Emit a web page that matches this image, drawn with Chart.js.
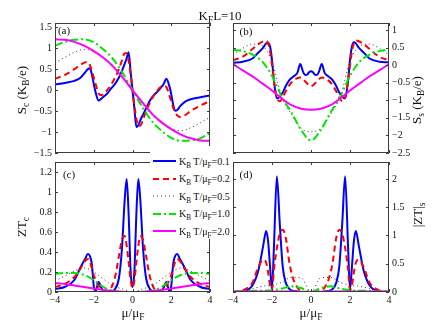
<!DOCTYPE html>
<html>
<head>
<meta charset="utf-8">
<script src="https://cdn.jsdelivr.net/npm/chart.js@4.4.1/dist/chart.umd.min.js"></script>
<style>
html, body { margin: 0; padding: 0; background: #fff; }
#wrap { position: relative; width: 444px; height: 325px; overflow: hidden;
        font-family: "Liberation Serif", "Times New Roman", serif; color: #111; }
canvas { position: absolute; left: 0; top: 0; }
.lbl { position: absolute; white-space: nowrap; font-size: 13px; line-height: 1; transform: translate(-50%, -50%); }
.rot { transform: translate(-50%, -50%) rotate(-90deg); }
.tag { font-size: 11px; }
sub { font-size: 0.72em; vertical-align: -0.35em; line-height: 0; }
#legend { position: absolute; left: 150px; top: 146px; width: 80px; height: 93px; background: #fff; font-size: 10px; }
#legend .row { position: absolute; left: 3px; height: 12px; display: flex; align-items: center; white-space: nowrap; }
#legend svg { margin-right: 2px; }
</style>
</head>
<body>
<div id="wrap">
  <canvas id="pa" width="444" height="325"></canvas>
  <canvas id="pb" width="444" height="325"></canvas>
  <canvas id="pc" width="444" height="325"></canvas>
  <canvas id="pd" width="444" height="325"></canvas>
  <div id="legend"></div>
  <div class="lbl" style="left:220px;top:15px;">K<sub>F</sub>L=10</div>
  <div class="lbl rot" style="left:21px;top:90px;">S<sub>c</sub> (K<sub>B</sub>/e)</div>
  <div class="lbl rot" style="left:21px;top:227px;">ZT<sub>c</sub></div>
  <div class="lbl rot" style="left:416px;top:100px;">S<sub>s</sub> (K<sub>B</sub>/e)</div>
  <div class="lbl rot" style="left:417px;top:215px;">|ZT|<sub>s</sub></div>
  <div class="lbl" style="left:133px;top:312px;">μ/μ<sub>F</sub></div>
  <div class="lbl" style="left:311px;top:312px;">μ/μ<sub>F</sub></div>
  <div class="lbl tag" style="left:64px;top:30px;">(a)</div>
  <div class="lbl tag" style="left:246px;top:31px;">(b)</div>
  <div class="lbl tag" style="left:69px;top:174px;">(c)</div>
  <div class="lbl tag" style="left:246px;top:174px;">(d)</div>
</div>
<script>
// chemical potential grids (mu / mu_F)
const muFine = [-4, -3.5, -3, -2.7, -2.45, -2.3, -2.2, -2.1, -2, -1.9, -1.75, -1.6, -1.45, -1.3, -1.1, -0.9, -0.7, -0.55, -0.4, -0.3, -0.2, -0.1, 0,
                0.1, 0.2, 0.3, 0.4, 0.55, 0.7, 0.9, 1.1, 1.3, 1.45, 1.6, 1.75, 1.9, 2, 2.1, 2.2, 2.3, 2.45, 2.7, 3, 3.5, 4];
const muCoarse = [-4, -3.5, -3, -2.5, -2, -1.5, -1, -0.5, 0, 0.5, 1, 1.5, 2, 2.5, 3, 3.5, 4];

// KBT/muF values
const seriesLabels = ['0.1', '0.2', '0.5', '1.0', '2.0'];

// (a) S_c
const aBlue = [0.13, 0.17, 0.22, 0.29, 0.42, 0.5, 0.52, 0.38, 0.15, -0.06, -0.25, -0.2, -0.14, -0.08, 0.04, 0.15, 0.3, 0.45, 0.63, 0.76, 0.9, 0.45, 0,
               -0.45, -0.88, -0.84, -0.72, -0.58, -0.44, -0.25, -0.12, -0.03, 0.05, 0.14, 0.27, 0.1, -0.1, -0.35, -0.49, -0.48, -0.39, -0.28, -0.22, -0.17, -0.13];
const aRed = [0.27, 0.36, 0.5, 0.6, 0.66, 0.67, 0.6, 0.46, 0.3, 0.14, -0.08, -0.12, -0.07, 0, 0.13, 0.3, 0.5, 0.7, 0.88, 0.88, 0.7, 0.38, 0,
              -0.38, -0.68, -0.86, -0.85, -0.7, -0.5, -0.3, -0.13, 0, 0.07, 0.1, 0.07, -0.12, -0.27, -0.42, -0.53, -0.6, -0.64, -0.6, -0.5, -0.37, -0.26];
const aDot = [0.65, 0.78, 0.9, 0.97, 0.92, 0.78, 0.6, 0.35, 0, -0.35, -0.6, -0.78, -0.92, -0.97, -0.9, -0.78, -0.65];
const aGreen = [1.06, 1.15, 1.2, 1.21, 1.14, 0.97, 0.74, 0.4, 0, -0.4, -0.74, -0.97, -1.14, -1.21, -1.2, -1.15, -1.02];
const aMag = [1.21, 1.2, 1.15, 1.06, 0.93, 0.77, 0.56, 0.29, 0, -0.29, -0.56, -0.77, -0.93, -1.06, -1.15, -1.2, -1.21];

// (b) S_s
const bBlue = [0.07, 0.1, 0.19, 0.36, 0.5, 0.62, 0.63, 0.53, 0.15, -0.45, -0.95, -0.9, -0.78, -0.6, -0.42, -0.32, -0.22, 0.03, -0.2, -0.28, -0.27, -0.2, -0.17,
               -0.2, -0.27, -0.28, -0.2, 0.03, -0.22, -0.32, -0.42, -0.6, -0.78, -0.9, -0.95, -0.45, 0.15, 0.53, 0.65, 0.62, 0.5, 0.36, 0.19, 0.1, 0.08];
const bRed = [0.14, 0.24, 0.46, 0.6, 0.68, 0.7, 0.62, 0.4, 0, -0.45, -0.92, -1.03, -0.92, -0.75, -0.56, -0.44, -0.37, -0.35, -0.4, -0.46, -0.52, -0.57, -0.6,
              -0.57, -0.52, -0.46, -0.4, -0.35, -0.37, -0.44, -0.56, -0.75, -0.92, -1.03, -0.92, -0.45, 0, 0.4, 0.62, 0.7, 0.68, 0.6, 0.46, 0.24, 0.14];
const bDot = [0.3, 0.48, 0.6, 0.55, 0.1, -0.9, -1.4, -1.8, -1.9, -1.8, -1.4, -0.9, 0.1, 0.55, 0.6, 0.48, 0.3];
const bGreen = [0.43, 0.4, 0.3, 0.1, -0.3, -0.9, -1.35, -1.85, -2.14, -1.85, -1.35, -0.9, -0.3, 0.1, 0.3, 0.4, 0.43];
const bMag = [0.03, -0.15, -0.32, -0.52, -0.72, -0.95, -1.14, -1.24, -1.27, -1.24, -1.14, -0.95, -0.72, -0.52, -0.32, -0.15, 0.03];

// (c) ZT_c
const cBlue = [0.03, 0.05, 0.12, 0.24, 0.33, 0.38, 0.36, 0.28, 0.06, 0.01, 0.1, 0.04, 0, 0, 0, 0.03, 0.14, 0.42, 0.93, 1.13, 0.78, 0.22, 0.05,
               0.22, 0.78, 1.13, 0.93, 0.42, 0.14, 0.03, 0, 0, 0, 0.04, 0.1, 0.01, 0.06, 0.28, 0.36, 0.38, 0.33, 0.24, 0.12, 0.05, 0.03];
const cRed = [0.05, 0.08, 0.15, 0.23, 0.31, 0.33, 0.3, 0.24, 0.17, 0.12, 0.06, 0.03, 0.01, 0.01, 0.04, 0.15, 0.36, 0.52, 0.56, 0.46, 0.3, 0.12, 0.04,
              0.12, 0.3, 0.46, 0.56, 0.52, 0.36, 0.15, 0.04, 0.01, 0.01, 0.03, 0.06, 0.12, 0.17, 0.24, 0.3, 0.33, 0.31, 0.23, 0.15, 0.08, 0.05];
const cDot = [0.11, 0.16, 0.21, 0.24, 0.2, 0.13, 0.06, 0.03, 0, 0.03, 0.06, 0.13, 0.2, 0.24, 0.21, 0.16, 0.11];
const cGreen = [0.18, 0.19, 0.19, 0.17, 0.12, 0.05, 0.01, 0, 0, 0, 0.01, 0.05, 0.12, 0.17, 0.19, 0.19, 0.18];
const cMag = [0.09, 0.08, 0.065, 0.05, 0.035, 0.02, 0.01, 0.003, 0, 0.003, 0.01, 0.02, 0.035, 0.05, 0.065, 0.08, 0.09];

// (d) |ZT|_s
const dBlue = [0, 0.01, 0.12, 0.38, 0.82, 1.08, 0.9, 0.45, 0.05, 0.8, 2.05, 1.2, 0.45, 0.17, 0.05, 0.02, 0.01, 0, 0, 0, 0, 0, 0,
               0, 0, 0, 0, 0, 0.01, 0.02, 0.05, 0.17, 0.45, 1.2, 2.05, 0.8, 0.05, 0.45, 0.9, 1.08, 0.82, 0.38, 0.12, 0.01, 0];
const dRed = [0, 0.03, 0.17, 0.44, 0.57, 0.52, 0.35, 0.12, 0.04, 0.4, 0.78, 1.03, 1.1, 0.97, 0.5, 0.22, 0.08, 0.03, 0.01, 0, 0, 0, 0,
              0, 0, 0, 0.01, 0.03, 0.08, 0.22, 0.5, 0.97, 1.1, 1.03, 0.78, 0.4, 0.04, 0.12, 0.35, 0.52, 0.57, 0.44, 0.17, 0.03, 0];
const dDot = [0, 0.02, 0.06, 0.1, 0.12, 0.17, 0.26, 0.25, 0, 0.25, 0.26, 0.17, 0.12, 0.1, 0.06, 0.02, 0];
const dGreen = [0.01, 0.01, 0.02, 0.02, 0.03, 0.06, 0.1, 0.07, 0, 0.07, 0.1, 0.06, 0.03, 0.02, 0.02, 0.01, 0.01];
const dMag = [0.008, 0.008, 0.008, 0.008, 0.008, 0.008, 0.008, 0.006, 0.005, 0.006, 0.008, 0.008, 0.008, 0.008, 0.008, 0.008, 0.008];

const styles = [
    { color: '#0000ff', width: 2, dash: [] },
    { color: '#ff0000', width: 2, dash: [6, 4] },
    { color: '#333333', width: 1, dash: [1, 3] },
    { color: '#00e600', width: 2, dash: [8, 3, 2, 3] },
    { color: '#ff00ff', width: 2, dash: [] }
];
const serif = '"Liberation Serif", "Times New Roman", serif';

function fmt(v) {
    return String(+v.toFixed(2)).replace('-', '\u2212');
}

// box round the plot area with inward ticks, like the original figure
const framePlugin = {
    id: 'frame',
    afterDatasetsDraw(chart) {
        const { ctx, chartArea: a, scales } = chart;
        ctx.save();
        ctx.strokeStyle = '#3c3c3c';
        ctx.lineWidth = 1;
        ctx.setLineDash([]);
        ctx.strokeRect(a.left + 0.5, a.top + 0.5, a.width - 1, a.height - 1);
        ctx.beginPath();
        scales.x.ticks.forEach(t => {
            const p = Math.round(scales.x.getPixelForValue(t.value)) + 0.5;
            ctx.moveTo(p, a.bottom); ctx.lineTo(p, a.bottom - 3);
            ctx.moveTo(p, a.top); ctx.lineTo(p, a.top + 3);
        });
        scales.y.ticks.forEach(t => {
            const p = Math.round(scales.y.getPixelForValue(t.value)) + 0.5;
            ctx.moveTo(a.left, p); ctx.lineTo(a.left + 3, p);
            ctx.moveTo(a.right, p); ctx.lineTo(a.right - 3, p);
        });
        ctx.stroke();
        ctx.restore();
    }
};

function makeSets(blue, red, dot, green, mag) {
    const src = [[muFine, blue], [muFine, red], [muCoarse, dot], [muCoarse, green], [muCoarse, mag]];
    return src.map(([xs, ys], i) => ({
        label: 'KBT/\u03bcF=' + seriesLabels[i],
        data: xs.map((x, k) => ({ x: x, y: ys[k] })),
        borderColor: styles[i].color,
        borderWidth: styles[i].width,
        borderDash: styles[i].dash,
        pointRadius: 0,
        fill: false,
        cubicInterpolationMode: 'monotone',
        order: 4 - i
    }));
}

function makePanel(id, sets, box) {
    const axisW = 40;
    const xh = box.showX ? 18 : 0;
    const padding = box.side === 'left'
        ? { left: box.left - axisW, right: 444 - box.right, top: box.top, bottom: 325 - box.bottom - xh }
        : { left: box.left, right: 444 - box.right - axisW, top: box.top, bottom: 325 - box.bottom - xh };

    new Chart(document.getElementById(id), {
        type: 'line',
        data: { datasets: sets },
        options: {
            responsive: false,
            animation: false,
            layout: { padding: padding },
            plugins: {
                legend: { display: false },
                tooltip: { enabled: false }
            },
            scales: {
                x: {
                    type: 'linear',
                    min: -4,
                    max: 4,
                    grid: { display: false, drawTicks: false },
                    border: { display: false },
                    ticks: {
                        display: box.showX,
                        stepSize: 2,
                        includeBounds: false,
                        padding: 2,
                        maxRotation: 0,
                        color: '#111',
                        font: { family: serif, size: 10 },
                        callback: fmt
                    },
                    afterFit: s => { s.height = xh; }
                },
                y: {
                    position: box.side,
                    min: box.ymin,
                    max: box.ymax,
                    grid: { display: false, drawTicks: false },
                    border: { display: false },
                    ticks: {
                        stepSize: box.step,
                        includeBounds: false,
                        padding: 3,
                        color: '#111',
                        font: { family: serif, size: 10 },
                        callback: fmt
                    },
                    afterFit: s => { s.width = axisW; }
                }
            }
        },
        plugins: [framePlugin]
    });
}

makePanel('pa', makeSets(aBlue, aRed, aDot, aGreen, aMag),
    { side: 'left', left: 55, right: 210, top: 23, bottom: 153, showX: false, ymin: -1.5, ymax: 1.6, step: 0.5 });
makePanel('pb', makeSets(bBlue, bRed, bDot, bGreen, bMag),
    { side: 'right', left: 233, right: 389, top: 23, bottom: 153, showX: false, ymin: -2.5, ymax: 1.2, step: 0.5 });
makePanel('pc', makeSets(cBlue, cRed, cDot, cGreen, cMag),
    { side: 'left', left: 55, right: 210, top: 162, bottom: 292, showX: true, ymin: 0, ymax: 1.3, step: 0.2 });
makePanel('pd', makeSets(dBlue, dRed, dDot, dGreen, dMag),
    { side: 'right', left: 233, right: 389, top: 162, bottom: 292, showX: true, ymin: 0, ymax: 2.3, step: 0.5 });

// legend drawn as html, sitting over the corner of panels (a) and (c)
const legend = document.getElementById('legend');
seriesLabels.forEach((lab, i) => {
    const st = styles[i];
    const row = document.createElement('div');
    row.className = 'row';
    row.style.top = (9 + i * 17.5) + 'px';
    row.innerHTML =
        '<svg width="24" height="6"><line x1="0" y1="3" x2="23" y2="3" stroke="' + st.color +
        '" stroke-width="' + st.width + '" stroke-dasharray="' + (st.dash.length ? st.dash.join(',') : 'none') + '"/></svg>' +
        '<span>K<sub>B</sub> T/\u03bc<sub>F</sub>=' + lab + '</span>';
    legend.appendChild(row);
});
</script>
</body>
</html>
